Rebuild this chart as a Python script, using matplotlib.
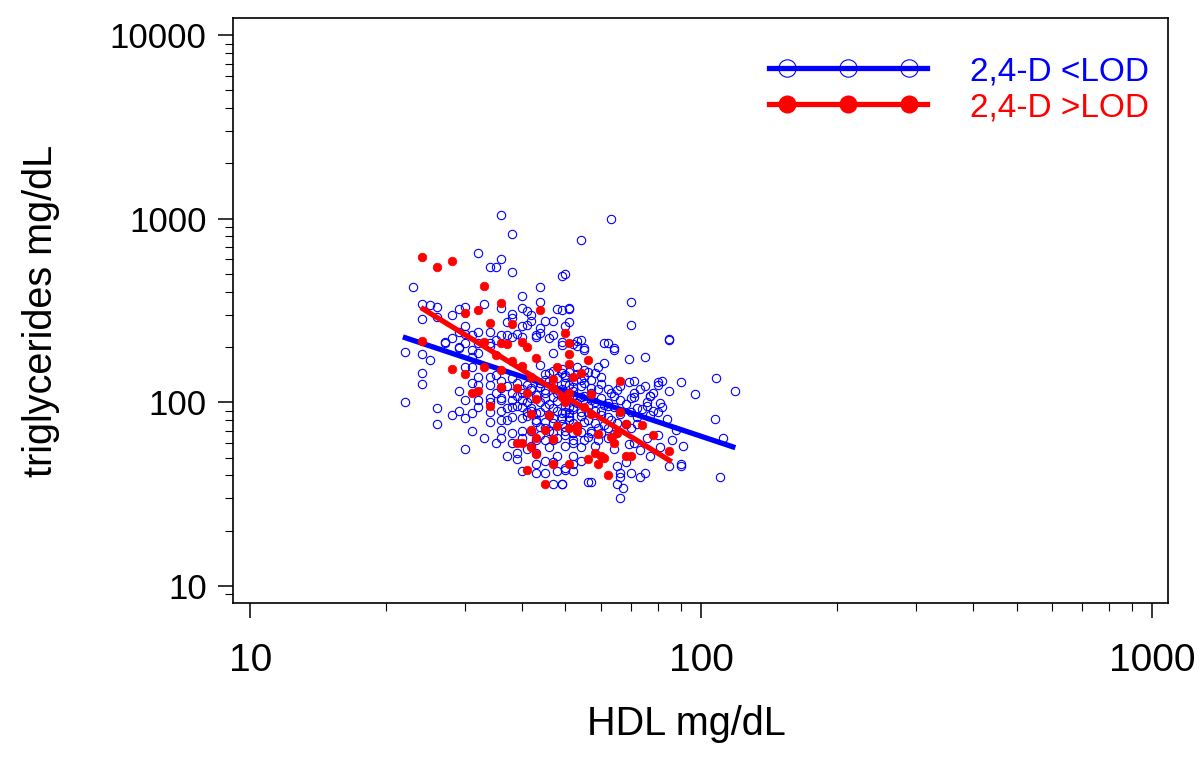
import matplotlib
matplotlib.use("Agg")
import matplotlib.pyplot as plt
from matplotlib.lines import Line2D
from matplotlib.legend_handler import HandlerLine2D, HandlerTuple
from matplotlib.ticker import LogLocator, NullFormatter, FixedLocator, FixedFormatter

plt.rcParams['font.family'] = ['Liberation Sans', 'DejaVu Sans']

# ---------------- data: 2,4-D < LOD (HDL, triglycerides) ----------------
below_hdl = [
    36, 38, 54, 63, 50, 70, 70, 85, 51, 49, 51, 50, 54, 61, 64, 55, 52,
    32, 36, 34, 35, 38, 49, 23, 44, 40, 24, 25, 26, 29, 30, 33, 36, 40, 44, 48, 51,
    38, 38, 41, 42, 24, 26, 28, 45, 47, 42, 41, 40, 37, 30, 32, 29, 28, 27, 30, 31,
    34, 36, 38, 39, 44, 44, 43, 46, 49, 53, 30, 32, 34, 29,
    22, 24, 25, 24, 24, 22, 26, 26, 28, 29, 30, 29, 31, 33, 30, 32, 32, 34, 36, 36,
    37, 36, 37, 39, 39, 40, 43, 43, 45, 47, 49, 48, 50, 48, 46, 45, 47, 42, 40, 40,
    38, 36, 34, 31, 30, 31, 27, 29, 31, 31, 32, 34, 35, 37, 40, 43, 47, 49, 47, 44,
    46, 49, 38, 34, 32, 32, 34, 39, 41, 44, 45, 50, 52, 52, 51, 49, 47, 45, 42, 40,
    38, 38, 40, 43, 45, 47, 50, 52, 52, 50, 52, 52, 47, 45, 43, 41, 38, 36, 35, 43,
    42, 44, 47, 36, 38, 40, 42, 45, 47, 50, 52, 40, 42, 45, 48, 51, 52, 49, 43, 41,
    36, 35, 37, 34, 31, 30,
    85, 75, 69, 64, 62, 55, 53, 61, 59, 56, 60, 69, 71, 80, 82, 80, 90, 108, 119, 97,
    85, 78, 77, 71, 71, 65, 63, 66, 81, 76, 72, 70, 64, 62, 60, 62, 65, 72, 77, 84,
    107, 88, 112, 86, 91, 90, 90, 110, 85, 81, 80, 76, 77, 75, 73, 70, 66, 66, 67, 66,
    65, 65, 57, 56, 49, 52, 50, 54, 71, 73, 68, 69, 64, 62, 59, 57, 55, 54, 52, 50,
    51, 54, 56, 58, 54, 57, 51, 50, 54, 55, 57,
    42, 43, 44, 45, 46, 47, 48, 49, 50, 51, 52, 53, 54, 55, 56, 57, 58, 59, 60, 61,
    46, 48, 50, 52, 53, 55, 57, 44, 46, 48, 50, 52, 54, 56, 58, 60, 62, 43, 45, 47,
    49, 51, 53, 55, 57, 59, 61, 63, 41, 42, 44, 45, 47, 49, 51, 53, 55, 58, 60, 62,
    64, 66, 68, 40, 39, 38, 37, 36, 35, 34, 39, 41, 44, 46, 48, 50, 52, 54, 56, 58,
    60, 62, 64, 66, 68, 70, 72, 74, 76, 78, 80, 82, 70, 73, 75, 77,
]
below_tg = [
    1050, 824, 765, 996, 497, 353, 265, 219, 323, 320, 275, 261, 219, 210, 198, 198, 208,
    648, 601, 543, 543, 510, 490, 422, 422, 381, 345, 340, 332, 324, 332, 345, 328, 328, 350, 324, 328,
    304, 289, 316, 297, 285, 292, 300, 278, 278, 278, 265, 261, 275, 261, 242, 242, 224, 213, 236, 233,
    242, 233, 227, 236, 254, 239, 233, 224, 213, 202, 210, 210, 202, 200,
    188, 183, 170, 144, 126, 100, 93, 76, 85, 90, 82, 115, 70, 64, 56, 94, 103, 106, 103, 90,
    80, 71, 51, 53, 49, 42, 46, 41, 41, 36, 36, 42, 43, 51, 57, 62, 68, 58, 64, 70,
    68, 80, 78, 127, 156, 156, 210, 198, 193, 177, 185, 210, 219, 233, 227, 227, 233, 205, 185, 160,
    144, 144, 135, 137, 137, 124, 124, 127, 124, 121, 132, 127, 121, 94, 87, 87, 93, 94, 93, 94,
    94, 83, 82, 80, 78, 77, 70, 68, 60, 58, 51, 46, 47, 48, 53, 56, 60, 64, 60, 62,
    70, 73, 62, 106, 103, 103, 105, 105, 107, 109, 109, 113, 116, 116, 113, 94, 77, 82, 87, 88,
    119, 113, 93, 88, 87, 103,
    221, 177, 172, 193, 210, 193, 215, 164, 156, 146, 137, 129, 130, 129, 130, 124, 129, 135, 115, 111,
    115, 113, 108, 113, 107, 116, 112, 103, 99, 100, 93, 88, 94, 99, 90, 83, 77, 83, 85, 81,
    81, 71, 64, 62, 58, 46, 45, 39, 45, 57, 66, 64, 51, 41, 39, 41, 41, 39, 34, 30,
    36, 45, 37, 37, 36, 42, 44, 48, 60, 55, 47, 59, 56, 64, 62, 70, 62, 57, 68, 73,
    83, 88, 80, 77, 107, 103, 124, 137, 132, 127, 119,
    120, 110, 100, 112, 98, 125, 102, 118, 96, 105, 115, 99, 122, 108, 95, 112, 100, 118, 106, 97,
    130, 135, 140, 130, 142, 138, 133, 88, 85, 90, 88, 92, 84, 88, 90, 85, 95, 78, 72, 82,
    76, 80, 74, 78, 68, 72, 75, 80, 100, 90, 128, 142, 148, 152, 146, 155, 150, 145, 125, 118,
    108, 122, 98, 118, 108, 112, 122, 130, 140, 100, 96, 84, 66, 70, 64, 66, 62, 69, 65, 58,
    68, 72, 67, 86, 76, 72, 76, 92, 95, 90, 88, 94, 105, 118, 122, 108,
]

# ---------------- data: 2,4-D > LOD ----------------
above_hdl = [
    24, 26, 28, 33, 36, 32, 30, 44, 34, 38, 40, 41, 33, 36, 37, 24, 50, 51, 35, 43,
    51, 38, 33, 40, 48, 51, 28, 30, 36, 36, 42, 47, 52, 31, 32, 39, 41, 47, 49, 51,
    50, 43, 34, 42, 46, 48, 45, 51, 47, 42, 43, 39, 40, 42, 43, 47, 51, 41, 45,
    56, 54, 66, 57, 55, 66, 57, 68, 74, 53, 53, 59, 63, 78, 64, 65, 58, 60, 61, 68,
    70, 85, 56, 59, 62,
]
above_tg = [
    620, 543, 590, 428, 349, 320, 308, 320, 271, 268, 213, 200, 213, 210, 208, 216, 239, 210, 181, 174,
    183, 168, 156, 158, 156, 162, 152, 142, 150, 121, 137, 134, 137, 112, 115, 119, 113, 119, 107, 112,
    100, 104, 95, 86, 85, 74, 71, 72, 63, 71, 64, 60, 60, 57, 52, 46, 46, 43, 36,
    170, 144, 130, 111, 94, 88, 86, 76, 75, 74, 70, 67, 65, 66, 60, 68, 53, 51, 50, 51,
    51, 54, 49, 46, 40,
]

# fitted (log-log) regression lines, end points
below_fit_hdl = [21.8, 119]
below_fit_tg = [227, 56.6]
above_fit_hdl = [23.9, 86]
above_fit_tg = [328, 47.4]

series_labels = ["2,4-D <LOD", "2,4-D >LOD"]
x_ticks = [10, 100, 1000]
y_ticks = [10, 100, 1000, 10000]

BLUE = '#0000ff'
RED = '#ff0000'

fig = plt.figure(figsize=(12, 7.6), dpi=100)
ax = fig.add_axes([0.1942, 0.2066, 0.7792, 0.7697])
ax.set_xscale('log')
ax.set_yscale('log')

ax.plot(below_hdl, below_tg, ls='none', marker='o', ms=6.0, mfc='none',
        mec=BLUE, mew=0.8, zorder=2)
ax.plot(below_fit_hdl, below_fit_tg, color=BLUE, lw=3.8, solid_capstyle='butt', zorder=3)
ax.plot(above_hdl, above_tg, ls='none', marker='o', ms=6.2, mfc=RED, mec=RED,
        mew=0.5, zorder=4)
ax.plot(above_fit_hdl, above_fit_tg, color=RED, lw=3.8, solid_capstyle='butt', zorder=5)

ax.set_xlim(9.16, 1084)
ax.set_ylim(8.07, 12390)

ax.xaxis.set_major_locator(FixedLocator(x_ticks))
ax.xaxis.set_major_formatter(FixedFormatter([str(v) for v in x_ticks]))
ax.yaxis.set_major_locator(FixedLocator(y_ticks))
ax.yaxis.set_major_formatter(FixedFormatter([str(v) for v in y_ticks]))
ax.xaxis.set_minor_locator(LogLocator(base=10, subs=range(2, 10), numticks=20))
ax.yaxis.set_minor_locator(LogLocator(base=10, subs=range(2, 10), numticks=20))
ax.xaxis.set_minor_formatter(NullFormatter())
ax.yaxis.set_minor_formatter(NullFormatter())

ax.tick_params(axis='both', which='major', direction='out', length=11, width=1.1)
ax.tick_params(axis='both', which='minor', direction='out', length=5.5, width=0.8)
ax.tick_params(axis='x', which='major', labelsize=28, pad=18)
ax.tick_params(axis='y', which='major', labelsize=25, pad=8)
for s in ax.spines.values():
    s.set_linewidth(1.2)

ax.set_xlabel("HDL mg/dL", fontsize=28.5, labelpad=20)
ax.xaxis.set_label_coords(0.485, -0.175)
ax.set_ylabel("triglycerides mg/dL", fontsize=28.5, labelpad=36)

# legend
lb = Line2D([], [], color=BLUE, lw=3.8)
mb = Line2D([], [], ls='none', marker='o', ms=12.5, mfc='none', mec=BLUE, mew=0.8)
lr = Line2D([], [], color=RED, lw=3.8)
mr = Line2D([], [], ls='none', marker='o', ms=12, mfc=RED, mec=RED)
hmap = {tuple: HandlerTuple(ndivide=1, pad=0),
        mb: HandlerLine2D(numpoints=3, marker_pad=0.55),
        mr: HandlerLine2D(numpoints=3, marker_pad=0.55)}
leg = ax.legend([(lb, mb), (lr, mr)], series_labels, handler_map=hmap,
                loc='upper right', bbox_to_anchor=(0.980, 0.935), frameon=False,
                fontsize=24, handlelength=4.75, handletextpad=1.3,
                labelspacing=0.15, borderpad=0, borderaxespad=0)
for t, c in zip(leg.get_texts(), [BLUE, RED]):
    t.set_color(c)

fig.savefig("out.png", dpi=100)
